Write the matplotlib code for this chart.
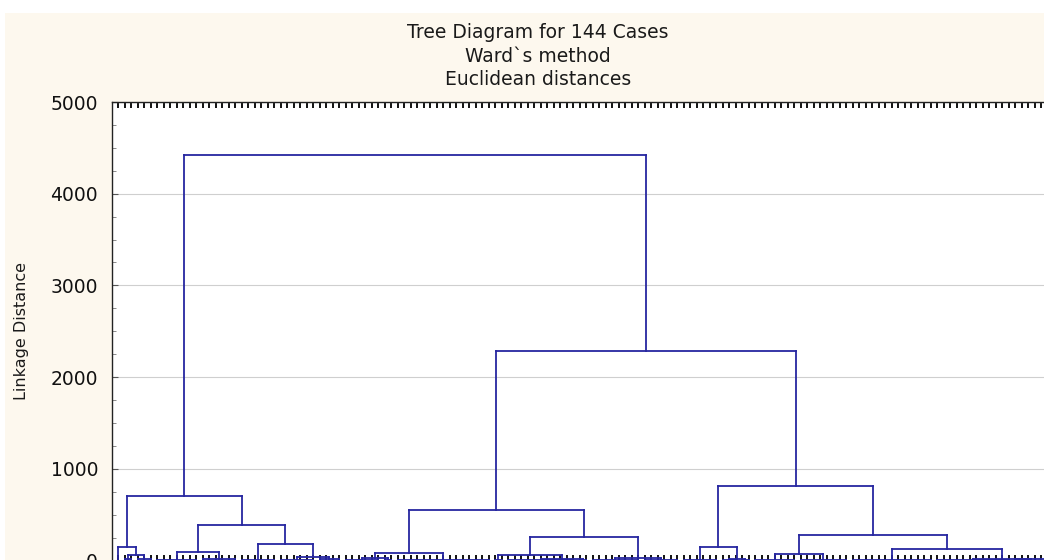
import matplotlib
matplotlib.use("Agg")
import matplotlib.pyplot as plt
from matplotlib.patches import Rectangle
import numpy as np

# ---- data -------------------------------------------------------------
title_lines = ["Tree Diagram for 144 Cases", "Ward`s method", "Euclidean distances"]
y_label = "Linkage Distance"
y_ticks = [0, 1000, 2000, 3000, 4000, 5000]

# leaf groups (left to right): number of cases and their small joining height
group_sizes = [1, 2, 3, 7, 6, 6, 6, 4, 6, 2, 15, 2, 11, 2, 8, 6, 6, 3, 2, 7, 8, 13, 12, 6]
group_heights = [0, 12, 18, 10, 14, 8, 10, 12, 8, 10, 6, 10, 8, 10, 6, 8, 10, 8, 10, 8, 6, 8, 10, 12]

# linkage: ids < 24 are groups, id 24+k is the k-th merge
merge_left = [1, 0, 3, 6, 5, 26, 25, 8, 31, 12, 11, 14, 34, 32, 17, 16, 19, 22, 21, 40, 39, 37, 30]
merge_right = [2, 24, 4, 7, 27, 28, 29, 9, 10, 13, 33, 15, 35, 36, 18, 38, 20, 23, 41, 42, 43, 44, 45]
merge_height = [58, 142, 98, 40, 185, 382, 706, 28, 80, 15, 65, 30, 254, 553, 20, 142, 75, 20, 130, 276, 815, 2288, 4425]

# ---- figure -------------------------------------------------------------
W, H = 1044, 560
fig = plt.figure(figsize=(W / 100, H / 100), dpi=100, facecolor="white")
fig.patches.append(Rectangle((5 / W, 0), 1 - 5 / W, (H - 13) / H,
                             transform=fig.transFigure, facecolor="#fdf8ee",
                             edgecolor="none", zorder=-10))

ax_left, ax_right, ax_top, ax_bot = 112, 1052, 102, 560.5
ax = fig.add_axes([ax_left / W, (H - ax_bot) / H, (ax_right - ax_left) / W, (ax_bot - ax_top) / H])
ax.set_facecolor("white")

n_leaves = sum(group_sizes)
line_col = "#2626a0"
lw = 1.3

segs = []
pos = {}
start = 0
for g, (n, h) in enumerate(zip(group_sizes, group_heights)):
    leaves = np.arange(start, start + n)
    if n == 1:
        pos[g] = (float(leaves[0]), 0.0)
    else:
        for lf in leaves:
            segs.append(([lf, lf], [0, h]))
        segs.append(([leaves[0], leaves[-1]], [h, h]))
        pos[g] = (float(leaves.mean()), float(h))
    start += n

n_groups = len(group_sizes)
for k, (a, b, h) in enumerate(zip(merge_left, merge_right, merge_height)):
    xa, ya = pos[a]
    xb, yb = pos[b]
    segs.append(([xa, xa], [ya, h]))
    segs.append(([xb, xb], [yb, h]))
    segs.append(([xa, xb], [h, h]))
    pos[n_groups + k] = ((xa + xb) / 2, h)

for xs, ys in segs:
    ax.plot(xs, ys, color=line_col, lw=lw, solid_capstyle="projecting", zorder=3)

x0 = (ax_left - 118) / 6.5
x1 = (ax_right - 118) / 6.5
ax.set_xlim(x0, x1)
ax.set_ylim(0, 5000)

ax.set_xticks(np.arange(n_leaves))
ax.tick_params(axis="x", which="major", direction="in", top=True, bottom=True,
               length=4, width=1.4, color="#111111", labelbottom=False, labeltop=False)
ax.set_yticks(y_ticks)
ax.set_yticks(np.arange(0, 5001, 250), minor=True)
ax.tick_params(axis="y", which="major", direction="in", length=4, width=0.8,
               color="#555555", labelsize=13.5, pad=10, labelcolor="#111111")
ax.tick_params(axis="y", which="minor", direction="in", length=3, width=0.6, color="#777777")
for lab in ax.get_yticklabels():
    lab.set_fontfamily("DejaVu Sans")

ax.grid(axis="y", which="major", color="#cfcfcf", lw=0.8, zorder=0)
ax.set_axisbelow(True)
for s in ax.spines.values():
    s.set_color("#222222")
    s.set_linewidth(1.0)

for txt, yc in zip(title_lines, [33, 57, 80]):
    fig.text(538 / W, 1 - yc / H, txt, ha="center", va="center", fontsize=13.5,
             family="DejaVu Sans", color="#1a1a1a")

fig.text(22 / W, 1 - 331 / H, y_label, rotation=90, ha="center", va="center",
         fontsize=11.5, family="DejaVu Sans", color="#1a1a1a")

fig.savefig("out.png", dpi=100, facecolor=fig.get_facecolor())
